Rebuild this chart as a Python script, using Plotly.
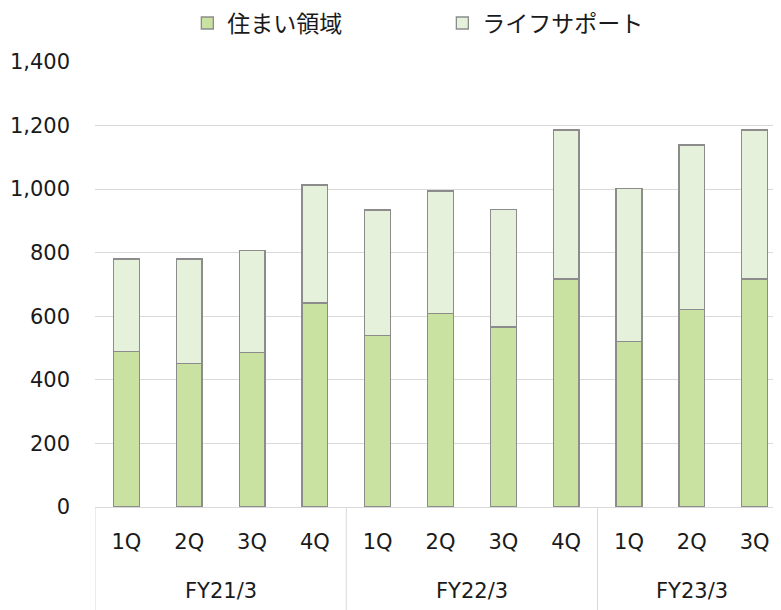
import plotly.graph_objects as go

fiscal_years = ["FY21/3"] * 4 + ["FY22/3"] * 4 + ["FY23/3"] * 3
quarters = ["1Q", "2Q", "3Q", "4Q", "1Q", "2Q", "3Q", "4Q", "1Q", "2Q", "3Q"]
housing = [489, 451, 486, 642, 540, 609, 566, 717, 521, 621, 717]
life_support = [291, 329, 320, 371, 394, 385, 370, 469, 481, 518, 469]
y_ticks = [0, 200, 400, 600, 800, 1000, 1200, 1400]
y_tick_labels = ["0", "200", "400", "600", "800", "1,000", "1,200", "1,400"]

FONT = "DejaVu Sans, Noto Sans CJK JP, sans-serif"
TXT = "#1a1a1a"
GRID = "#d9d9d9"

cats = [f"{fy} {q}" for fy, q in zip(fiscal_years, quarters)]

fig = go.Figure()
fig.add_trace(go.Bar(
    x=cats, y=housing, name="住まい領域",
    marker=dict(color="#c9e2a2", line=dict(color="#8c8c8c", width=1.3)),
))
fig.add_trace(go.Bar(
    x=cats, y=life_support, name="ライフサポート",
    marker=dict(color="#e6f1dc", line=dict(color="#8c8c8c", width=1.3)),
))

# group labels and dividers from the fiscal-year list
groups = []
for i, fy in enumerate(fiscal_years):
    if not groups or groups[-1][0] != fy:
        groups.append([fy, i, i])
    else:
        groups[-1][2] = i

shapes = []
annotations = []
for fy, start, end in groups:
    shapes.append(dict(type="line", xref="x", yref="paper",
                       x0=start - 0.5, x1=start - 0.5, y0=0, y1=-0.4,
                       line=dict(color=GRID, width=1)))
    annotations.append(dict(xref="x", yref="paper", x=(start + end) / 2,
                            y=-0.189, text=fy, showarrow=False,
                            yanchor="middle", xanchor="center",
                            font=dict(family=FONT, size=21, color=TXT)))

fig.update_layout(
    width=773, height=602,
    barmode="stack", bargap=0.59,
    paper_bgcolor="white", plot_bgcolor="white",
    margin=dict(l=87, r=0, t=54, b=103),
    font=dict(family=FONT, size=21, color=TXT),
    showlegend=True,
    legend=dict(
        orientation="h", xref="container", yref="container",
        x=0.232, xanchor="left", y=0.975, yanchor="middle",
        font=dict(family=FONT, size=23, color=TXT),
        entrywidth=210, itemwidth=30, traceorder="normal",
        bgcolor="rgba(0,0,0,0)",
    ),
    xaxis=dict(
        type="category", range=[-0.5, 10.42],
        tickvals=cats, ticktext=quarters,
        showline=True, linecolor=GRID, linewidth=1,
        showgrid=False, ticks="", ticklabelstandoff=16,
        tickfont=dict(family=FONT, size=21, color=TXT),
    ),
    yaxis=dict(
        range=[0, 1400], tickvals=y_ticks, ticktext=y_tick_labels,
        showgrid=True, gridcolor=GRID, gridwidth=1,
        zeroline=False, showline=False, ticks="",
        ticklabelstandoff=24,
        tickfont=dict(family=FONT, size=21, color=TXT),
    ),
    shapes=shapes,
    annotations=annotations,
)

fig.write_html("out.html")
